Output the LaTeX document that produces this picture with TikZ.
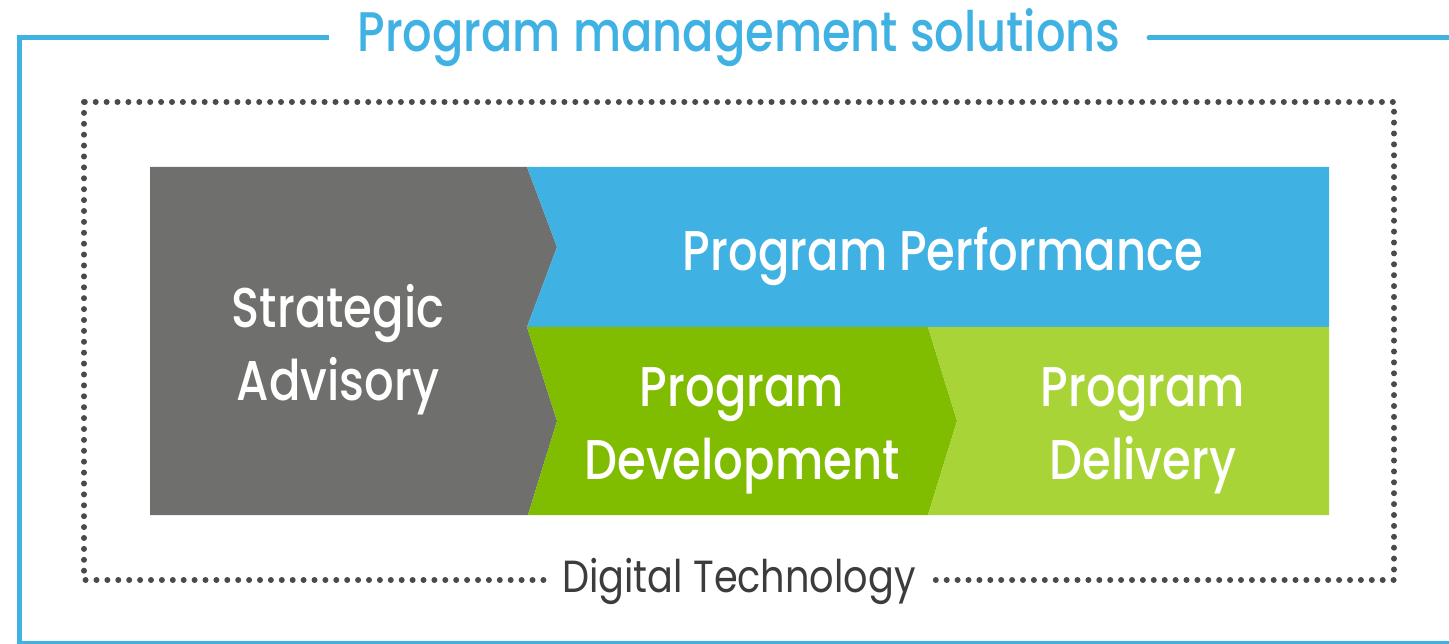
\documentclass[tikz,border=0pt]{standalone}
\usepackage{fontspec}
\setmainfont{Poppins}[FakeStretch=0.85]
\newfontfamily\pmmedium{Poppins Medium}[FakeStretch=0.83]
\definecolor{pmblue}{HTML}{3FB1E3}
\definecolor{pmgray}{HTML}{6F6F6E}
\definecolor{pmgreen}{HTML}{80BC00}
\definecolor{pmlime}{HTML}{A9D437}
\definecolor{pmdot}{HTML}{4A4A4C}
\definecolor{pmtext}{HTML}{3C3C3C}
\begin{document}
\begin{tikzpicture}[x=1pt,y=-1pt,
    blocktext/.style={text=white,align=center,inner sep=0pt,font=\pmmedium\fontsize{56}{73}\selectfont},
    ]
            \useasboundingbox (0,0) rectangle (1449,644);
            \node[text=pmblue,anchor=base,font=\pmmedium\fontsize{55.8}{60}\selectfont] (title) at (739,52) {Program management solutions};
            \draw[pmblue,line width=5pt] (329,38)--(19,38)--(19,643)--(1470,643);
            \draw[pmblue,line width=5pt,line cap=round] (1149,38)--(1470,38);
            \draw[pmdot,line width=6pt,line cap=round,dash pattern=on 0pt off 10.9pt] (84,102) rectangle (1394,580);
            \fill[pmgray] (150,167)--(527,167)--(557,247)--(527,327)--(557,421)--(528,515)--(150,515)--cycle;
            \fill[pmblue] (527,167)--(1329,167)--(1329,327)--(527,327)--(557,247)--cycle;
            \fill[pmgreen] (527,327)--(928,327)--(957,421)--(928,515)--(528,515)--(557,421)--cycle;
            \fill[pmlime] (928,327)--(1329,327)--(1329,515)--(928,515)--(957,421)--cycle;
            \node[blocktext] (advisory) at (338,350) {Strategic\\Advisory};
            \node[blocktext] (performance) at (943,257) {Program Performance};
            \node[blocktext] (development) at (742,431) {Program\\Development};
            \node[blocktext] (delivery) at (1143,431) {Program\\Delivery};
            \node[fill=white,text=pmtext,anchor=base,inner xsep=12pt,font=\fontsize{45}{50}\selectfont] (digital) at (739,592) {Digital Technology};
        \end{tikzpicture}
\end{document}
